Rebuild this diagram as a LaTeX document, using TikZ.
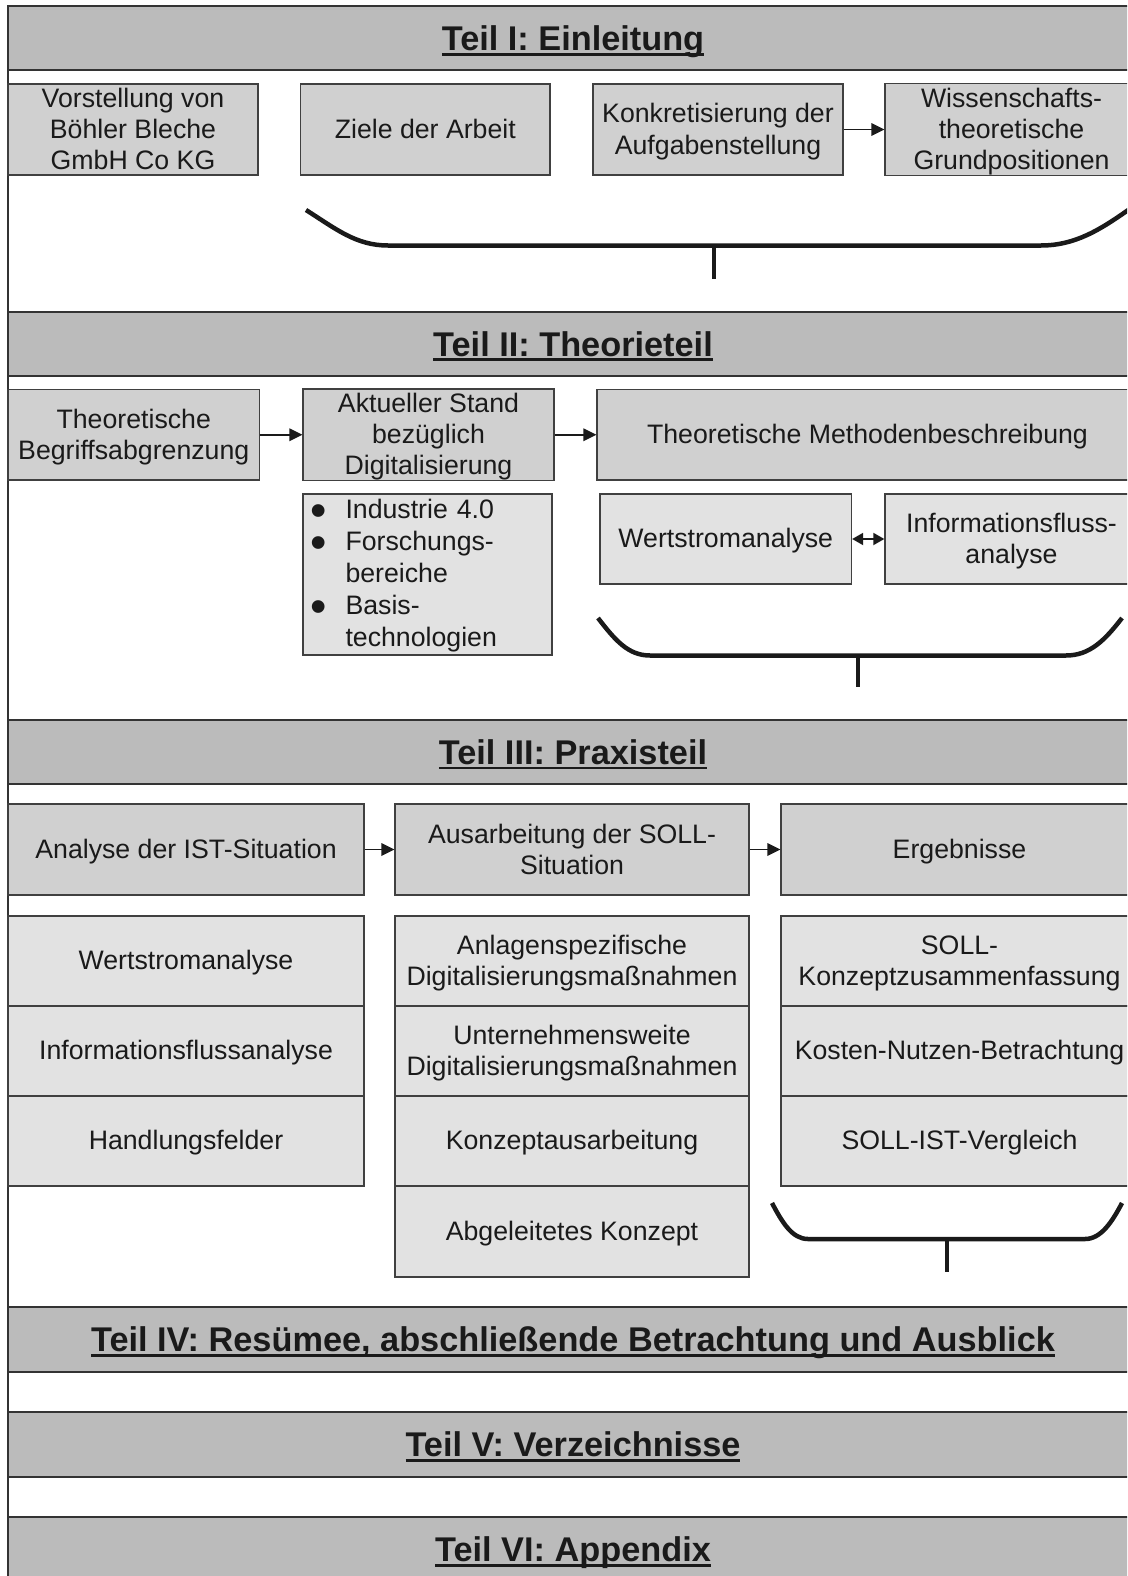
\documentclass[tikz,border=0pt]{standalone}
\usepackage{fontspec}
\setmainfont{Liberation Sans}
\usetikzlibrary{arrows.meta}

\definecolor{bandgray}{HTML}{BBBBBB}
\definecolor{boxgray}{HTML}{D0D0D0}
\definecolor{subgray}{HTML}{E2E2E2}
\definecolor{edge}{HTML}{404040}
\definecolor{ink}{HTML}{1A1A1A}

% underlined part heading with a heavy rule
\newcommand\headline[1]{\sbox0{#1}\rlap{\rule[-5pt]{\wd0}{2.8pt}}\usebox0}
% struts at the first and last line keep texts centred and boxes at their size
\newcommand\strutted[1]{\rule{0pt}{23.5pt}#1\rule[-5.1pt]{0pt}{5.1pt}}
\newcommand\blt{\raisebox{-8.2pt}{\scalebox{1.75}{\textbullet}}}
\newlength\bw \setlength\bw{35pt}

% box given by its edges: style, name, x1, y1, x2, y2, text
\newcommand\gridbox[7]{%
  \pgfmathsetmacro\gcx{(#3+#5)/2}\pgfmathsetmacro\gcy{(#4+#6)/2}%
  \pgfmathsetmacro\gcw{#5-#3}\pgfmathsetmacro\gch{#6-#4}%
  \node[#1, minimum width=\gcw pt, minimum height=\gch pt] (#2) at (\gcx,\gcy) {\strutted{#7}};}

\tikzset{
  band/.style={draw=black!80, line width=2pt, fill=bandgray, minimum width=1130pt,
    text height=24.6pt, text depth=0pt, inner sep=0pt, text=ink,
    font=\fontsize{34.3}{40}\selectfont\bfseries},
  mainbox/.style={draw=edge, line width=1.3pt, fill=boxgray, align=center, inner sep=0pt,
    text=ink, font=\fontsize{26.7}{31.2}\selectfont},
  subbox/.style={mainbox, fill=subgray},
  arr/.style={draw=ink, line width=1.8pt, -{Triangle[length=13pt,width=12.5pt]}},
  dblarr/.style={draw=ink, line width=1.8pt,
    {Triangle[length=11pt,width=12pt]}-{Triangle[length=11pt,width=12pt]}},
  brace/.style={draw=ink, line width=4.5pt},
  frame/.style={draw=black!80, line width=2pt},
}

\begin{document}
\begin{tikzpicture}[x=1pt, y=-1pt]
\clip (0,0) rectangle (1127,1576);
\fill[white] (0,0) rectangle (1127,1576);

% outer frame, left side
\draw[frame] (8,6) -- (8,1590);

% part headings
\node[band, minimum height=64.5pt] (p1) at (573,38.25) {\headline{Teil I: Einleitung}};
\node[band, minimum height=64.3pt] (p2) at (573,343.85) {\headline{Teil II: Theorieteil}};
\node[band, minimum height=64.4pt] (p3) at (573,752) {\headline{Teil III: Praxisteil}};
\node[band, minimum height=64.4pt] (p4) at (573,1339.5) {\headline{Teil IV: Resümee, abschließende Betrachtung und Ausblick}};
\node[band, minimum height=64.4pt] (p5) at (573,1444.5) {\headline{Teil V: Verzeichnisse}};
\node[band, minimum height=64.4pt] (p6) at (573,1549.5) {\headline{Teil VI: Appendix}};

% Teil I
\gridbox{mainbox}{a1}{8}{84}{258}{175}{Vorstellung von\\Böhler Bleche\\GmbH Co KG}
\gridbox{mainbox}{a2}{300.6}{84}{550}{175}{Ziele der Arbeit}
\gridbox{mainbox}{a3}{593}{84}{843}{175}{Konkretisierung der\\Aufgabenstellung}
\gridbox{mainbox}{a4}{885}{84}{1138}{175}{Wissenschafts-\\theoretische\\Grundpositionen}
\draw[arr] (a3.east) -- (a4.west);

\draw[brace] (306,210) .. controls (336,229) and (356,245.5) .. (388,245.5)
  -- (1041,245.5) .. controls (1075,245.5) and (1100,230) .. (1131,208);
\draw[brace] (714,245.5) -- (714,278.5);

% Teil II
\gridbox{mainbox}{b1}{8}{389.5}{259.5}{480}{Theoretische\\Begriffsabgrenzung}
\gridbox{mainbox}{b2}{303}{389.5}{554}{480}{Aktueller Stand\\bezüglich\\Digitalisierung}
\gridbox{mainbox}{b3}{597}{389.5}{1138}{480}{Theoretische Methodenbeschreibung}
\draw[arr] (b1.east) -- (b2.west);
\draw[arr] (b2.east) -- (b3.west);

\node[subbox, minimum width=249pt, minimum height=161pt, text width=234pt, align=left,
  inner xsep=7.4pt, font=\fontsize{26.7}{32.1}\selectfont] (c1) at (427.5,574.5)
  {\rule{0pt}{24.3pt}\makebox[\bw][l]{\blt}Industrie 4.0\\
   \makebox[\bw][l]{\blt}Forschungs-\\
   \makebox[\bw]{}bereiche\\
   \makebox[\bw][l]{\blt}Basis-\\
   \makebox[\bw]{}technologien\rule[-8.3pt]{0pt}{8.3pt}};

\gridbox{subbox}{w1}{600}{494}{851.5}{584}{Wertstromanalyse}
\gridbox{subbox}{w2}{885}{494}{1138}{584}{Informationsfluss-\\analyse}
\draw[dblarr] (w1.east) -- (w2.west);

\draw[brace] (598,618) .. controls (615,640) and (628,655.5) .. (650,655.5)
  -- (1066,655.5) .. controls (1090,655.5) and (1105,640) .. (1122,618);
\draw[brace] (858,655.5) -- (858,687);

% Teil III
\gridbox{mainbox}{d1}{8}{804}{364}{895}{Analyse der IST-Situation}
\gridbox{mainbox}{d2}{395}{804}{749}{895}{Ausarbeitung der SOLL-\\Situation}
\gridbox{mainbox}{d3}{781}{804}{1138}{895}{Ergebnisse}
\draw[arr] (d1.east) -- (d2.west);
\draw[arr] (d2.east) -- (d3.west);

\gridbox{subbox}{e1}{8}{916}{364}{1006}{Wertstromanalyse}
\gridbox{subbox}{e2}{8}{1006}{364}{1096}{Informationsflussanalyse}
\gridbox{subbox}{e3}{8}{1096}{364}{1186}{Handlungsfelder}

\gridbox{subbox}{f1}{395}{916}{749}{1006}{Anlagenspezifische\\Digitalisierungsmaßnahmen}
\gridbox{subbox}{f2}{395}{1006}{749}{1096}{Unternehmensweite\\Digitalisierungsmaßnahmen}
\gridbox{subbox}{f3}{395}{1096}{749}{1186}{Konzeptausarbeitung}
\gridbox{subbox}{f4}{395}{1186}{749}{1277}{Abgeleitetes Konzept}

\gridbox{subbox}{g1}{781}{916}{1138}{1006}{SOLL-\\Konzeptzusammenfassung}
\gridbox{subbox}{g2}{781}{1006}{1138}{1096}{Kosten-Nutzen-Betrachtung}
\gridbox{subbox}{g3}{781}{1096}{1138}{1186}{SOLL-IST-Vergleich}

\draw[brace] (772,1203) .. controls (782,1222) and (792,1239) .. (808,1239)
  -- (1085,1239) .. controls (1101,1239) and (1112,1222) .. (1122,1203);
\draw[brace] (947,1239) -- (947,1272);
\end{tikzpicture}
\end{document}
